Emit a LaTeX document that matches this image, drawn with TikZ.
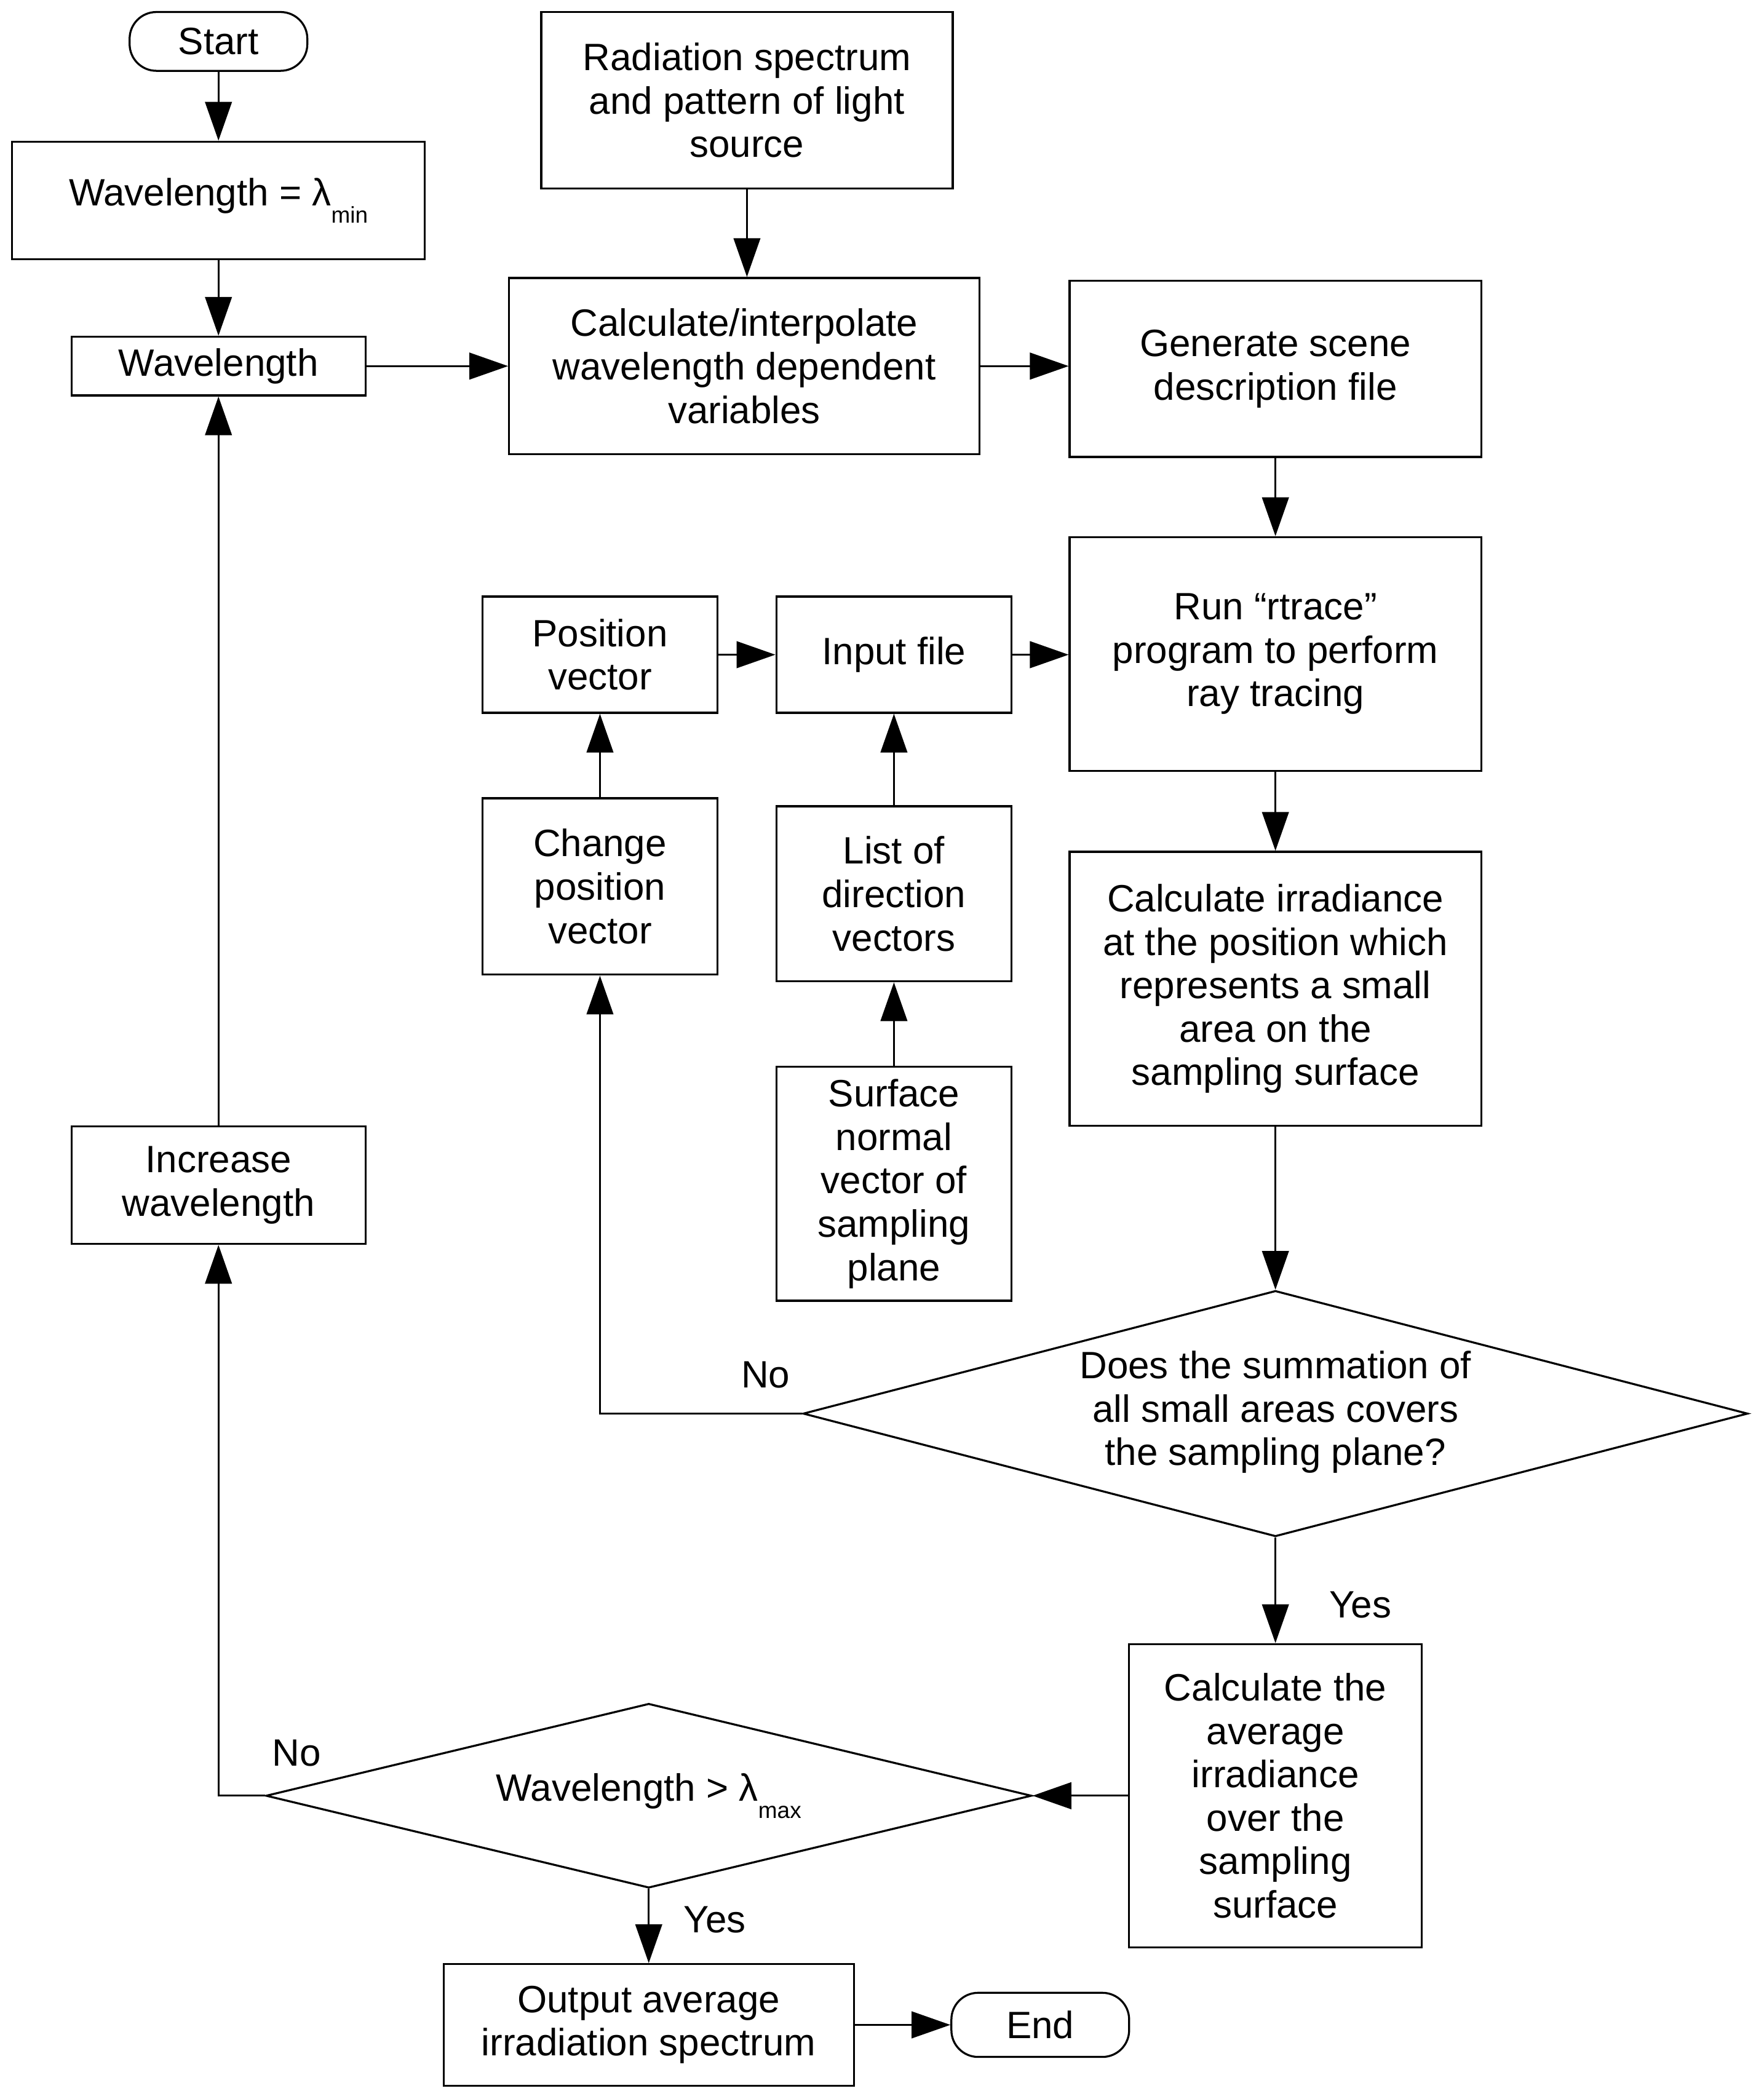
\documentclass[tikz,border=0pt]{standalone}
\usepackage{fontspec}
\setmainfont{Liberation Sans}
\usetikzlibrary{arrows.meta,shapes.geometric}
\begin{document}
\begin{tikzpicture}[x=1pt,y=-1pt,
  box/.style={draw,line width=1.5pt,rectangle,inner sep=0pt,align=center,font=\fontsize{28.5}{32.5}\selectfont},
  term/.style={box,rounded corners=20pt},
  dia/.style={draw,line width=1.5pt,diamond,inner sep=0pt},
  txt/.style={inner sep=0pt,align=center,font=\fontsize{28.5}{32.5}\selectfont},
  arr/.style={line width=1.3pt,-{Triangle[length=29pt,width=20pt]}},
  conn/.style={line width=1.3pt}]
\useasboundingbox (0,0) rectangle (1320,1571);
\fill[white] (0,0) rectangle (1320,1571);
% nodes
\node[term,minimum width=133pt,minimum height=44pt] (start) at (163.5,31) {Start};
\node[box,minimum width=309pt,minimum height=88pt] (wmin) at (163.5,150) {Wavelength = λ\raisebox{-13pt}{\fontsize{17}{17}\selectfont min}};
\node[box,minimum width=220pt,minimum height=44pt] (wl) at (163.5,274) {Wavelength};
\node[box,minimum width=308pt,minimum height=132pt] (rad) at (559,75) {Radiation spectrum\\and pattern of light\\source};
\node[box,minimum width=352pt,minimum height=132pt] (calc) at (557,274) {Calculate/interpolate\\wavelength dependent\\variables};
\node[box,minimum width=308pt,minimum height=132pt] (gen) at (954.5,276) {Generate scene\\description file};
\node[box,minimum width=308pt,minimum height=175pt] (run) at (954.5,489.5) {Run “rtrace”\\program to perform\\ray tracing};
\node[box,minimum width=308pt,minimum height=205pt] (irr) at (954.5,740) {Calculate irradiance\\at the position which\\represents a small\\area on the\\sampling surface};
\node[dia,minimum width=707pt,minimum height=184pt] (d1) at (954.5,1058) {};
\node[txt] (d1t) at (954.5,1057) {Does the summation of\\all small areas covers\\the sampling plane?};
\node[box,minimum width=176pt,minimum height=87pt] (pos) at (449,490) {Position\\vector};
\node[box,minimum width=176pt,minimum height=87pt] (inp) at (669,490) {Input file};
\node[box,minimum width=176pt,minimum height=132pt] (chg) at (449,663.5) {Change\\position\\vector};
\node[box,minimum width=176pt,minimum height=131pt] (lst) at (669,669) {List of\\direction\\vectors};
\node[box,minimum width=176pt,minimum height=175pt] (srf) at (669,886) {Surface\\normal\\vector of\\sampling\\plane};
\node[box,minimum width=219pt,minimum height=227pt] (avg) at (954.5,1344) {Calculate the\\average\\irradiance\\over the\\sampling\\surface};
\node[dia,minimum width=573pt,minimum height=138pt] (d2) at (485.5,1344) {};
\node[txt] (d2t) at (485.5,1344) {Wavelength > λ\raisebox{-13pt}{\fontsize{17}{17}\selectfont max}};
\node[box,minimum width=220pt,minimum height=88pt] (inc) at (163.5,887) {Increase\\wavelength};
\node[box,minimum width=307pt,minimum height=91pt] (out) at (485.5,1515.5) {Output average\\irradiation spectrum};
\node[term,minimum width=133pt,minimum height=48pt] (end) at (778.5,1515.5) {End};
% labels
\node[txt] (no1) at (573,1029) {No};
\node[txt] (yes1) at (1018,1201) {Yes};
\node[txt] (no2) at (222,1312) {No};
\node[txt] (yes2) at (535,1437) {Yes};
% connectors
\draw[arr] (start) -- (wmin);
\draw[arr] (wmin) -- (wl);
\draw[arr] (wl) -- (calc);
\draw[arr] (rad.south) -- (rad.south |- calc.north);
\draw[arr] (calc.east) -- (calc.east -| gen.west);
\draw[arr] (gen) -- (run);
\draw[arr] (run) -- (irr);
\draw[arr] (irr) -- (d1);
\draw[arr] (pos) -- (inp);
\draw[arr] (inp.east) -- (inp.east -| run.west);
\draw[arr] (chg) -- (pos);
\draw[arr] (lst) -- (inp);
\draw[arr] (srf) -- (lst);
\draw[arr] (d1.west) -| (chg.south);
\draw[arr] (d1) -- (avg);
\draw[arr] (avg.west) -- (d2.east);
\draw[arr] (d2.west) -| (inc.south);
\draw[arr] (inc) -- (wl);
\draw[arr] (d2) -- (out);
\draw[arr] (out) -- (end);
\end{tikzpicture}
\end{document}
